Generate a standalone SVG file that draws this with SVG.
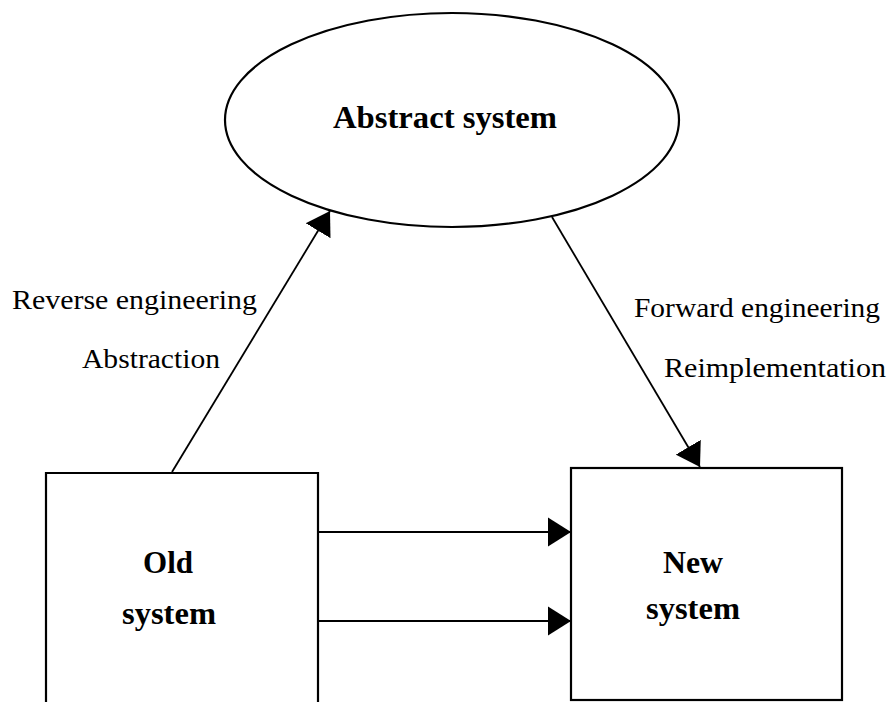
<svg xmlns="http://www.w3.org/2000/svg" width="890" height="702" viewBox="0 0 890 702">
  <style>
    .shape { fill: #ffffff; stroke: #000000; stroke-width: 2.2; }
    .edge { fill: none; stroke: #000000; stroke-width: 1.8; }
    .title { font-family: "Liberation Serif", "Times New Roman", serif; font-weight: bold; font-size: 32px; fill: #000000; }
    .label { font-family: "Liberation Serif", "Times New Roman", serif; font-size: 28px; fill: #000000; }
  </style>
  <defs>
    <marker id="head" markerUnits="userSpaceOnUse" viewBox="0 -15 24 30" refX="23" refY="0" markerWidth="24" markerHeight="30" orient="auto">
      <path d="M0,-14.5 L23,0 L0,14.5 z" fill="#000000"/>
    </marker>
  </defs>

  <rect width="890" height="702" fill="#ffffff"/>

  <g id="abstract-system">
    <ellipse class="shape" cx="452" cy="120" rx="227" ry="107"/>
    <text class="title" x="333" y="128" textLength="224" lengthAdjust="spacingAndGlyphs">Abstract system</text>
  </g>

  <g id="old-system">
    <path class="shape" d="M46,706 L46,473 L318,473 L318,706"/>
    <text class="title" x="143" y="573" textLength="50" lengthAdjust="spacingAndGlyphs">Old</text>
    <text class="title" x="122" y="624" textLength="94" lengthAdjust="spacingAndGlyphs">system</text>
  </g>

  <g id="new-system">
    <rect class="shape" x="571" y="468" width="271" height="232"/>
    <text class="title" x="663" y="573" textLength="60" lengthAdjust="spacingAndGlyphs">New</text>
    <text class="title" x="646" y="619" textLength="94" lengthAdjust="spacingAndGlyphs">system</text>
  </g>

  <g id="connectors">
    <line class="edge" x1="172" y1="472" x2="330" y2="211" marker-end="url(#head)"/>
    <line class="edge" x1="552" y1="217" x2="700" y2="467" marker-end="url(#head)"/>
    <line class="edge" x1="318" y1="532" x2="571" y2="532" stroke-width="2.2" marker-end="url(#head)"/>
    <line class="edge" x1="318" y1="621" x2="571" y2="621" stroke-width="2.2" marker-end="url(#head)"/>
  </g>

  <g id="labels">
    <text class="label" x="12" y="309" textLength="245" lengthAdjust="spacingAndGlyphs">Reverse engineering</text>
    <text class="label" x="82" y="368" textLength="138" lengthAdjust="spacingAndGlyphs">Abstraction</text>
    <text class="label" x="634" y="317" textLength="246" lengthAdjust="spacingAndGlyphs">Forward engineering</text>
    <text class="label" x="664" y="377" textLength="222" lengthAdjust="spacingAndGlyphs">Reimplementation</text>
  </g>
</svg>
